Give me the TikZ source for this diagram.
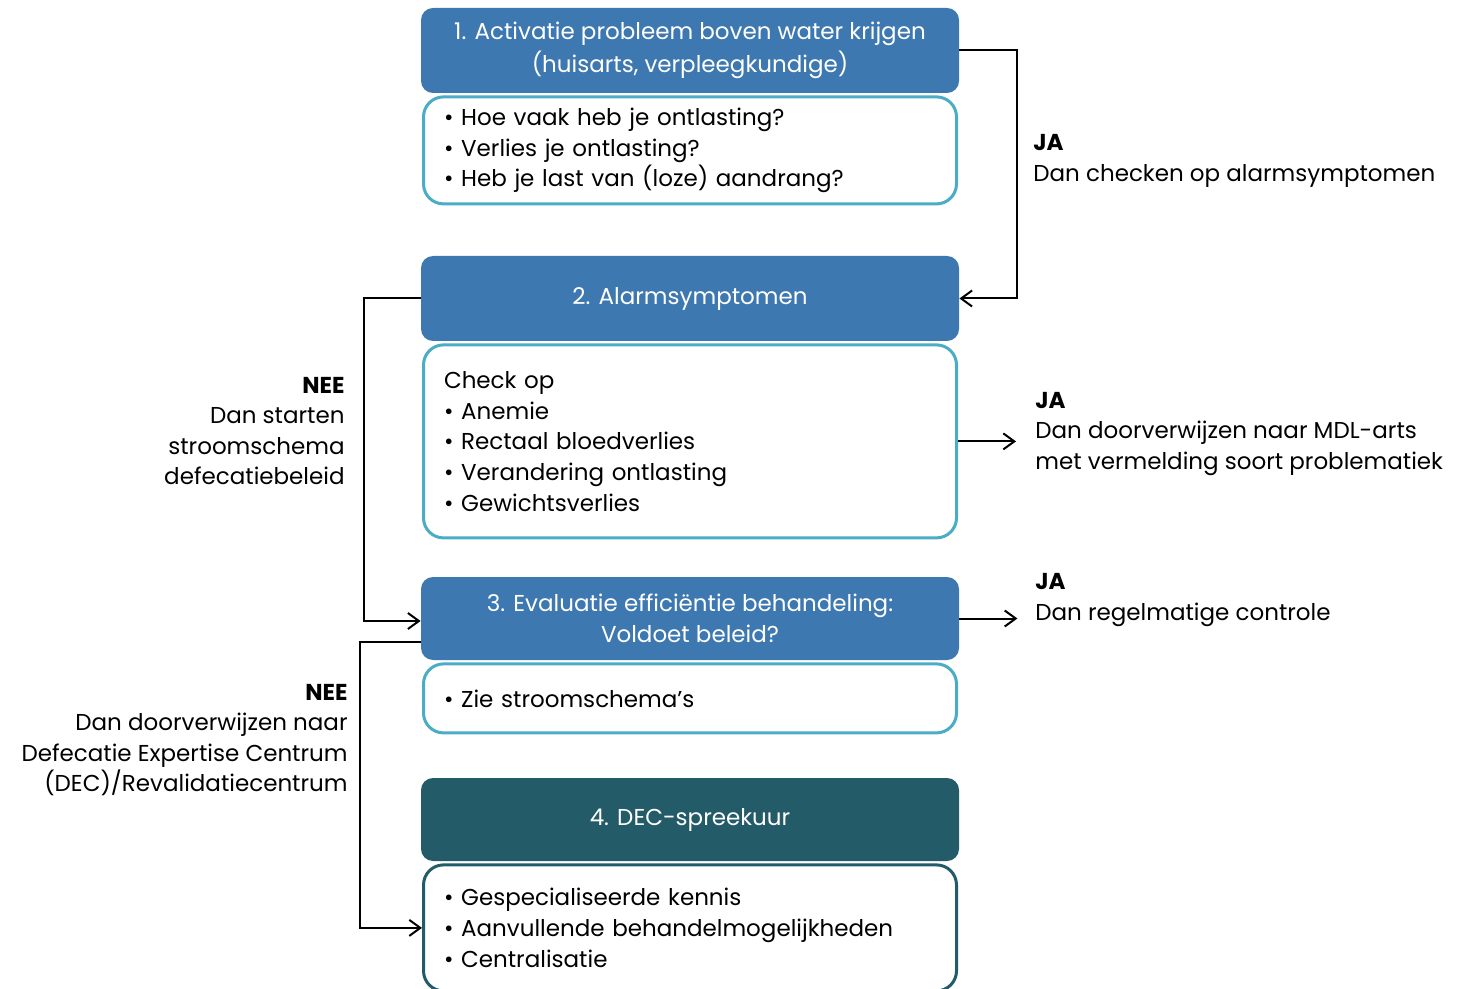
\documentclass[tikz,border=0pt]{standalone}
\usepackage{fontspec}
\setmainfont{Poppins}
\usetikzlibrary{positioning, arrows.meta}
\definecolor{headblue}{RGB}{62,120,177}
\definecolor{bodycyan}{RGB}{75,172,198}
\definecolor{decteal}{RGB}{35,91,105}
\tikzset{
    head/.style={
        fill=headblue,
        text=white,
        rounded corners=6pt,
        minimum width=269pt,
        minimum height=42.5pt,
        align=center,
        inner sep=0pt,
    },
    body/.style={
        draw=bodycyan,
        line width=1.5pt,
        fill=white,
        rounded corners=10pt,
        minimum width=266.5pt,
        text width=246pt,
        align=left,
        inner xsep=10pt,
        inner ysep=0pt,
    },
    lbl/.style={
        inner sep=0pt,
        align=left,
    },
    arr/.style={
        draw,
        line width=1pt,
        -{Straight Barb[length=5.5pt,width=8pt]},
    },
}

\begin{document}
\begin{tikzpicture}[x=0.5pt, y=-0.5pt, node distance=1pt,
                    font=\fontsize{11.5}{15.3}\selectfont]
                   \useasboundingbox (0,0) rectangle (1472,989);
                   % stappen
                   \node[head] (h1) at (690,50.5) {1. Activatie probleem boven water krijgen\\[1.5pt]
                   (huisarts, verpleegkundige)};
                   \node[body, minimum height=53.5pt, below=of h1] (b1) {\textbullet\ Hoe vaak heb je ontlasting?\\
                   \textbullet\ Verlies je ontlasting?\\
                   \textbullet\ Heb je last van (loze) aandrang?};
                   \node[head] (h2) at (690,298.5) {2. Alarmsymptomen};
                   \node[body, minimum height=96.5pt, below=of h2] (b2) {Check op\\
                   \textbullet\ Anemie\\
                   \textbullet\ Rectaal bloedverlies\\
                   \textbullet\ Verandering ontlasting\\
                   \textbullet\ Gewichtsverlies};
                   \node[head, minimum height=41.5pt] (h3) at (690,618.5) {3. Evaluatie efficiëntie behandeling:\\
                   Voldoet beleid?};
                   \node[body, minimum height=34.5pt, below=of h3] (b3) {\textbullet\ Zie stroomschema’s};
                   \node[head, fill=decteal, minimum height=41.5pt] (h4) at (690,819.5) {4. DEC-spreekuur};
                   \node[body, draw=decteal, minimum height=63pt, below=of h4] (b4) {\textbullet\ Gespecialiseerde kennis\\
                   \textbullet\ Aanvullende behandelmogelijkheden\\
                   \textbullet\ Centralisatie};
                   % verbindingen
                   \coordinate[right=29pt of h2] (k1);
                   \coordinate[left=28.5pt of h2] (k2);
                   \coordinate (k3) at (360,642);
                   \coordinate[right=29pt of b2] (k4);
                   \coordinate[right=29pt of h3] (k5);
                   \draw[arr] (h1.east) -| (k1) -- (h2.east);
                   \draw[arr] (h2.west) -- (k2) |- ([yshift=-1.25pt]h3.west);
                   \draw[arr] (k3 -| h3.west) -- (k3) |- (b4.west);
                   \draw[arr] (b2) -- (k4);
                   \draw[arr] (h3) -- (k5);
                   % labels
                   \node[lbl, anchor=west] (ja1) at (1033,161) {\textbf{JA}\\
                   Dan checken op alarmsymptomen};
                   \node[lbl, anchor=west] (ja2) at (1035,434) {\textbf{JA}\\
                   Dan doorverwijzen naar MDL-arts\\
                   met vermelding soort problematiek};
                   \node[lbl, anchor=west] (ja3) at (1035,600) {\textbf{JA}\\
                   Dan regelmatige controle};
                   \node[lbl, anchor=east, align=right] (nee1) at (345,431) {\textbf{NEE}\\
                   Dan starten\\
                   stroomschema\\
                   defecatiebeleid};
                   \node[lbl, anchor=east, align=right] (nee2) at (348,740) {\textbf{NEE}\\
                   Dan doorverwijzen naar\\
                   Defecatie Expertise Centrum\\
                   (DEC)/Revalidatiecentrum};
\end{tikzpicture}
\end{document}
